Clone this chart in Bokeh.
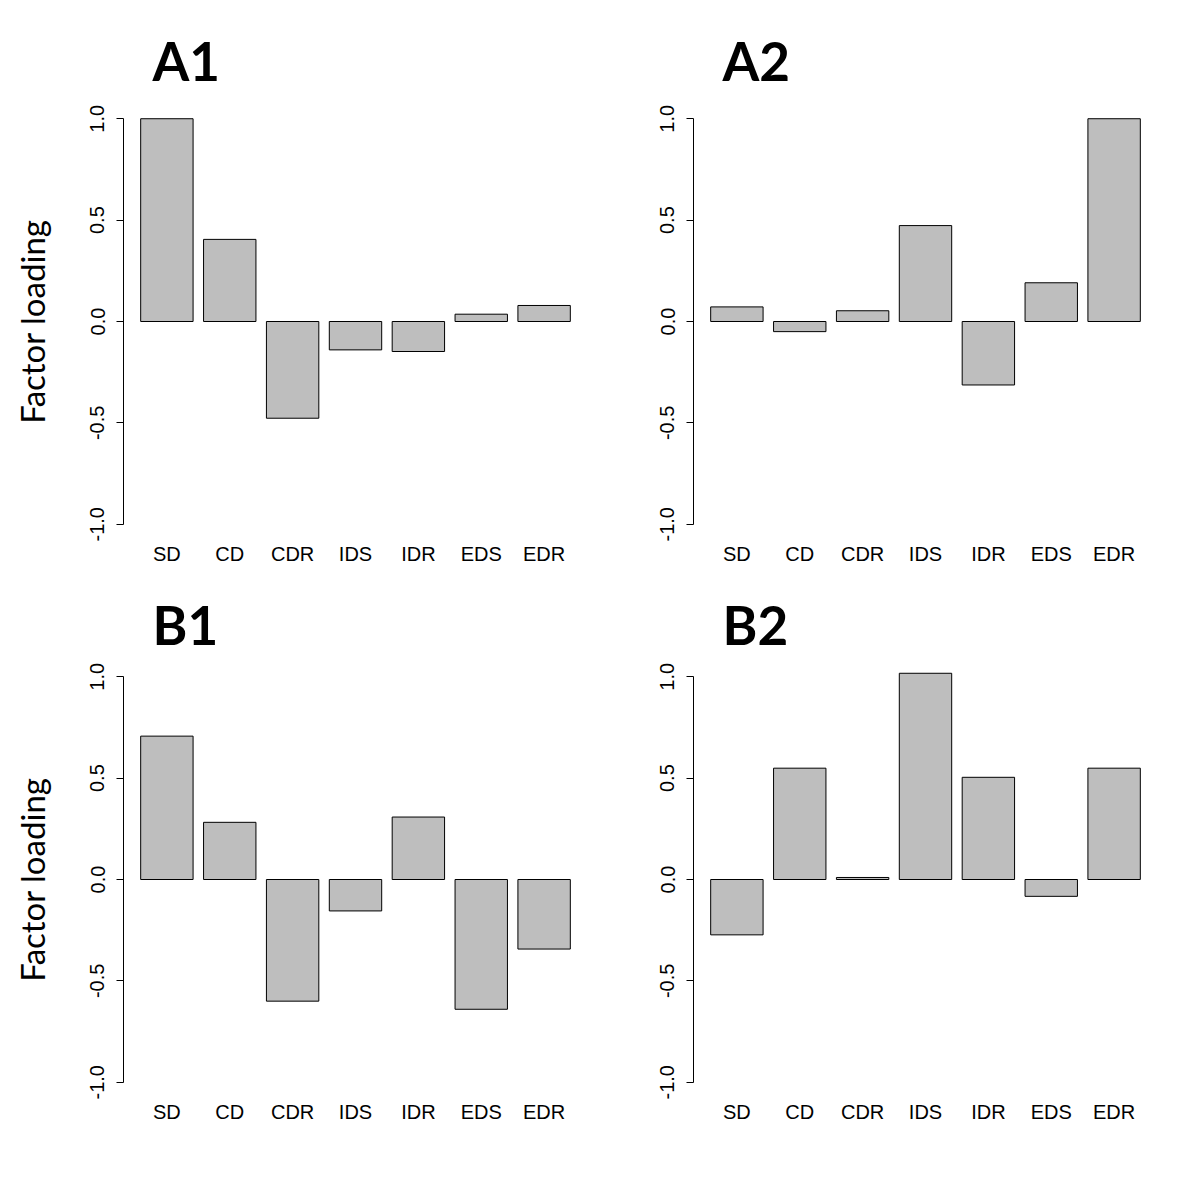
from bokeh.plotting import figure
from bokeh.models import FixedTicker, NumeralTickFormatter, Range1d, ColumnDataSource
from bokeh.layouts import row, column
from bokeh.embed import file_html
from bokeh.resources import INLINE

categories = ["SD", "CD", "CDR", "IDS", "IDR", "EDS", "EDR"]
loadings_A1 = [1.00, 0.405, -0.477, -0.140, -0.148, 0.036, 0.079]
loadings_A2 = [0.072, -0.050, 0.053, 0.473, -0.313, 0.191, 1.00]
loadings_B1 = [0.707, 0.282, -0.600, -0.155, 0.308, -0.640, -0.343]
loadings_B2 = [-0.273, 0.549, 0.010, 1.017, 0.504, -0.083, 0.549]
y_ticks = [-1.0, -0.5, 0.0, 0.5, 1.0]
panel_titles = ["A1", "A2", "B1", "B2"]
y_label = "Factor loading"

LABEL_FONT = "Liberation Sans"
TITLE_FONT = "Lato"


def make_panel(title, vals, left_col, top_row):
    idx = list(range(len(categories)))
    p = figure(frame_width=464, frame_height=438,
               x_range=Range1d(-0.69, 6.69), y_range=Range1d(-1.08, 1.08),
               output_backend="svg", toolbar_location=None, tools="")
    p.min_border_left = 123 if left_col else 106
    p.min_border_right = 0 if left_col else 20
    p.min_border_top = 102 if top_row else 70
    p.min_border_bottom = 45 if top_row else 60
    p.outline_line_color = None
    p.xgrid.visible = False
    p.ygrid.visible = False
    p.background_fill_color = "white"
    p.border_fill_color = "white"

    src = ColumnDataSource(dict(x=idx, top=vals))
    p.vbar(x="x", top="top", bottom=0, width=1 / 1.2, source=src,
           fill_color="#BEBEBE", line_color="black", line_width=1)

    xa = p.xaxis[0]
    xa.ticker = FixedTicker(ticks=idx)
    xa.major_label_overrides = {i: c for i, c in enumerate(categories)}
    xa.axis_line_color = None
    xa.major_tick_line_color = None
    xa.minor_tick_line_color = None
    xa.major_label_text_font = LABEL_FONT
    xa.major_label_text_font_size = "20px"
    xa.major_label_text_color = "black"
    xa.major_label_standoff = -4

    ya = p.yaxis[0]
    ya.ticker = FixedTicker(ticks=y_ticks)
    ya.formatter = NumeralTickFormatter(format="0.0")
    ya.bounds = (-1, 1)
    ya.axis_line_color = "black"
    ya.major_tick_line_color = "black"
    ya.major_tick_out = 7
    ya.major_tick_in = 0
    ya.minor_tick_line_color = None
    ya.major_label_orientation = "vertical"
    ya.major_label_text_font = LABEL_FONT
    ya.major_label_text_font_size = "20px"
    ya.major_label_text_color = "black"
    ya.major_label_standoff = 12
    if left_col:
        ya.axis_label = y_label
        ya.axis_label_text_font = TITLE_FONT
        ya.axis_label_text_font_style = "normal"
        ya.axis_label_text_font_size = "33px"
        ya.axis_label_text_color = "black"
        ya.axis_label_standoff = 36

    p.title.text = title
    p.title.text_font = TITLE_FONT
    p.title.text_font_style = "bold"
    p.title.text_font_size = "53px"
    p.title.text_color = "black"
    p.title.align = "left"
    p.title.offset = 29
    p.title.standoff = 22 if top_row else 10
    return p


p1 = make_panel(panel_titles[0], loadings_A1, True, True)
p2 = make_panel(panel_titles[1], loadings_A2, False, True)
p3 = make_panel(panel_titles[2], loadings_B1, True, False)
p4 = make_panel(panel_titles[3], loadings_B2, False, False)

layout = column(row(p1, p2), row(p3, p4))

with open("out.html", "w") as f:
    f.write(file_html(layout, INLINE))
